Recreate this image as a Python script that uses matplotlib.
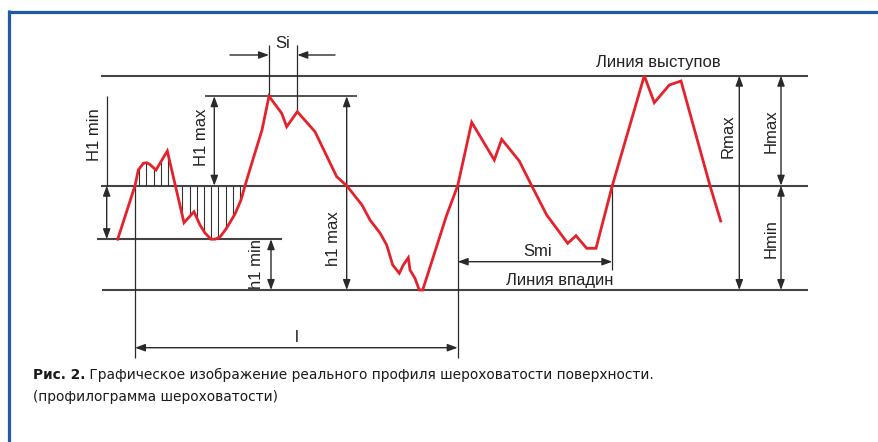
import numpy as np
import matplotlib
matplotlib.use("Agg")
import matplotlib.pyplot as plt

# ---------------- data ----------------
# roughness profile: position along the trace and height above the mean line
profile_x = [117.7, 135, 138.3, 143.3, 146.7, 150, 156, 167.3, 184, 194, 200, 205, 211, 215,
             220, 226, 235, 241, 245, 253.3, 262, 269, 281.7, 286.7, 297.3, 315, 336.7, 346.7,
             362, 370, 380, 386.7, 392.7, 399.3, 403.3, 408.3, 410, 415, 419.3, 422.7, 446.7,
             457.7, 471.7, 494.3, 501.7, 519.3, 531.7, 546.7, 567.7, 576, 586.7, 596, 612.3,
             644.3, 654.3, 669.3, 681, 710, 720.7]
profile_h = [-53.5, 0, 15.7, 22.4, 23, 21.2, 15.7, 34.7, -37, -26, -39.3, -47.3, -53.5, -53.5,
             -51.3, -43.3, -28.3, -14.3, 0, 27.4, 55.7, 89.5, 72.4, 59, 74, 54, 9, 0,
             -19.3, -34.3, -47.3, -59.3, -79.3, -87.6, -79.3, -72, -84.3, -92.6, -104.3, -104.3, -29.3,
             0, 63.4, 25.7, 46.4, 24.7, 0, -29.3, -57.6, -50, -62.6, -62.6, 0,
             110, 83, 100.7, 104.7, 0, -35.3]

# reference levels (height above the mean line)
level_mean = 0.0
level_peaks = 110.0       # Линия выступов
level_valleys = -104.3    # Линия впадин
level_H1max = 89.5
level_H1min_low = -53.5

caption_bold = "Рис. 2."
caption_line1 = " Графическое изображение реального профиля шероховатости поверхности."
caption_line2 = "(профилограмма шероховатости)"

# ---------------- figure ----------------
W, H = 879, 442
Y0 = 185.7  # pixel row of the mean line
fig = plt.figure(figsize=(W / 100, H / 100), dpi=100)
ax = fig.add_axes([0, 0, 1, 1])
ax.set_xlim(0, W)
ax.set_ylim(Y0 - H, Y0)
ax.axis("off")

px = np.array(profile_x)
ph = np.array(profile_h)

LINE = "#444444"
THIN = "#2a2a2a"
RED = "#e5222b"
TXT = "#222222"
FONT = "Liberation Sans"
FS = 12

def hline(y, x0, x1, lw=1.5, c=LINE):
    ax.plot([x0, x1], [y, y], color=c, lw=lw, solid_capstyle="butt", zorder=2)

def vline(x, y0, y1, lw=0.9, c=THIN):
    ax.plot([x, x], [y0, y1], color=c, lw=lw, solid_capstyle="butt", zorder=2)

def arrow(x0, y0, x1, y1, style="<|-|>"):
    ax.annotate("", xy=(x1, y1), xytext=(x0, y0),
                arrowprops=dict(arrowstyle=style + ",head_length=0.6,head_width=0.22",
                                color=THIN, lw=1.0, mutation_scale=10,
                                shrinkA=0, shrinkB=0), zorder=3)

def label(x, y, s, rot=0):
    ax.text(x, y, s, rotation=rot, ha="center", va="center",
            fontsize=FS, family=FONT, color=TXT)

# blue frame
blue = "#1f5ba6"
ax.plot([8, W], [Y0 - 11.5, Y0 - 11.5], color=blue, lw=2.3, solid_capstyle="butt")
ax.plot([9.3, 9.3], [Y0 - 10.3, Y0 - H], color=blue, lw=2.3, solid_capstyle="butt")

# horizontal reference lines
hline(level_peaks, 100.7, 808.3)
hline(level_mean, 100.7, 808.3)
hline(level_valleys, 101.7, 808.3)
hline(level_H1min_low, 96.7, 282)
hline(level_H1max, 205, 357, lw=1.3)

# zero crossings of the profile (interpolated)
cross = []
for i in range(len(px) - 1):
    if ph[i] == 0:
        cross.append(px[i])
    elif ph[i] * ph[i + 1] < 0:
        t = ph[i] / (ph[i] - ph[i + 1])
        cross.append(px[i] + t * (px[i + 1] - px[i]))
xc_l0, xc_l1, xc_s1 = cross[0], cross[4], cross[6]

# hatching between profile and mean line
hatch_x = np.arange(139.3, 243, 7.2)
for hx in hatch_x:
    hy = np.interp(hx, px, ph)
    vline(hx, 0, hy, lw=0.8, c="#333333")

# profile
ax.plot(px, ph, color=RED, lw=2.0, solid_joinstyle="miter", zorder=5)

# Si
i_pk = int(np.argmin(np.abs(px - 269)))
i_pk2 = int(np.argmin(np.abs(px - 297.3)))
ysi = Y0 - 55
vline(px[i_pk], Y0 - 45, ph[i_pk])
vline(px[i_pk2], Y0 - 45, ph[i_pk2])
arrow(230, ysi, px[i_pk], ysi, style="-|>")
arrow(335, ysi, px[i_pk2], ysi, style="-|>")
label((px[i_pk] + px[i_pk2]) / 2, Y0 - 44, "Si")

# H1 min
vline(106.7, level_H1max, level_mean)
arrow(106.7, level_mean, 106.7, level_H1min_low)
label(94.5, Y0 - 135, "H1 min", 90)

# H1 max
arrow(214.3, level_H1max, 214.3, level_mean)
label(201.2, Y0 - 137, "H1 max", 90)

# h1 min
arrow(271, level_H1min_low, 271, level_valleys)
label(256.5, Y0 - 264, "h1 min", 90)

# h1 max
arrow(346.7, level_H1max, 346.7, level_valleys)
label(334, Y0 - 239, "h1 max", 90)

# Rmax, Hmax, Hmin
arrow(739.3, level_peaks, 739.3, level_valleys)
label(727.8, Y0 - 136, "Rmax", 90)
arrow(781, level_peaks, 781, level_mean)
arrow(781, level_mean, 781, level_valleys)
label(771.2, Y0 - 131, "Hmax", 90)
label(771.2, Y0 - 239, "Hmin", 90)

# l and Smi
yl = Y0 - 347.7
vline(xc_l0, level_mean, Y0 - 358)
vline(xc_l1, level_mean, Y0 - 358)
arrow(xc_l0, yl, xc_l1, yl)
label((xc_l0 + xc_l1) / 2, Y0 - 338, "l")

ysm = Y0 - 261.7
vline(xc_s1, level_mean, Y0 - 270)
arrow(xc_l1, ysm, xc_s1, ysm)
label(538, Y0 - 251.5, "Smi")

label(658.5, Y0 - 62, "Линия выступов")
label(560, Y0 - 280.7, "Линия впадин")

# caption
CAPF = "DejaVu Sans"
CFS = 9.9
t1 = ax.text(33, Y0 - 375, caption_bold, ha="left", va="center", fontsize=CFS,
             family=CAPF, weight="bold", color="#1a1a1a")
fig.canvas.draw()
bb = t1.get_window_extent(renderer=fig.canvas.get_renderer())
x_after = ax.transData.inverted().transform((bb.x1, bb.y0))[0]
ax.text(x_after, Y0 - 375, caption_line1, ha="left", va="center", fontsize=CFS,
        family=CAPF, color="#1a1a1a")
ax.text(33, Y0 - 397, caption_line2, ha="left", va="center", fontsize=CFS,
        family=CAPF, color="#1a1a1a")

fig.savefig("out.png", dpi=100, facecolor="white")
